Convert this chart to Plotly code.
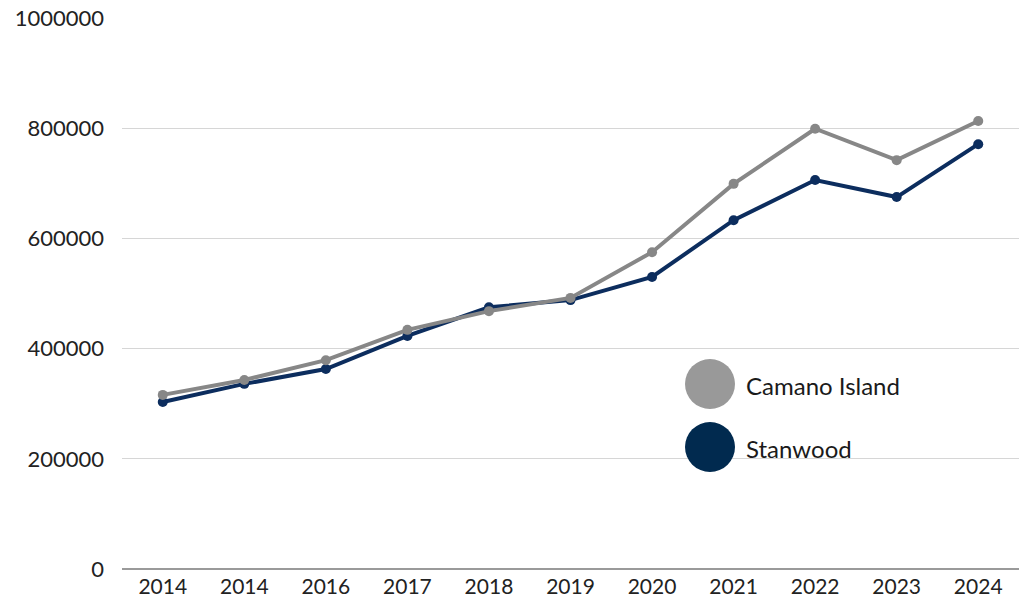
import plotly.graph_objects as go

years = ["2014", "2014", "2016", "2017", "2018", "2019", "2020", "2021", "2022", "2023", "2024"]
camano = [316000, 343000, 379000, 434000, 468000, 492000, 575000, 699000, 799000, 742000, 813000]
stanwood = [303000, 336000, 363000, 423000, 475000, 488000, 530000, 633000, 706000, 675000, 771000]
series_names = ["Camano Island", "Stanwood"]
line_colors = ["#878787", "#0c2d5e"]
legend_colors = ["#999999", "#012a4f"]
y_ticks = [0, 200000, 400000, 600000, 800000, 1000000]

xs = list(range(len(years)))
FONT = "Lato, 'Open Sans', sans-serif"

fig = go.Figure()
fig.add_trace(go.Scatter(x=xs, y=stanwood, mode="lines+markers", name=series_names[1],
                         line=dict(color=line_colors[1], width=4),
                         marker=dict(color=line_colors[1], size=10), showlegend=False))
fig.add_trace(go.Scatter(x=xs, y=camano, mode="lines+markers", name=series_names[0],
                         line=dict(color=line_colors[0], width=4),
                         marker=dict(color=line_colors[0], size=10), showlegend=False))

L, R, T, B = 122, 0, 18, 30
W, H = 1019, 599
pw, ph = W - L - R, H - T - B

def px(x):
    return (x - L) / pw

def py(y):
    return (H - B - y) / ph

legend_pos = [(710, 384), (710, 447)]
for (cx, cy), name, col in zip(legend_pos, series_names, legend_colors):
    fig.add_shape(type="circle", xref="paper", yref="paper",
                  xsizemode="pixel", ysizemode="pixel",
                  xanchor=px(cx), yanchor=py(cy),
                  x0=-25, x1=25, y0=-25, y1=25,
                  fillcolor=col, line=dict(width=0))
    fig.add_annotation(x=px(cx + 34), y=py(cy + 1), xref="paper", yref="paper",
                       text=name, showarrow=False, xanchor="left", yanchor="middle",
                       font=dict(family=FONT, size=24, color="#1a1a1a"))

fig.update_layout(
    width=W, height=H,
    margin=dict(l=L, r=R, t=T, b=B),
    paper_bgcolor="white", plot_bgcolor="white",
    font=dict(family=FONT, size=21, color="#222222"),
    xaxis=dict(range=[-0.5, len(years) - 0.5], tickvals=xs, ticktext=years,
               showgrid=False, zeroline=False, showline=False, ticks="",
               tickfont=dict(size=21, color="#222222"), ticklabelstandoff=3),
    yaxis=dict(range=[0, 1000000], tickvals=y_ticks, ticktext=[str(v) for v in y_ticks],
               showgrid=True, gridcolor="#d6d6d6", gridwidth=1,
               zeroline=True, zerolinecolor="#9a9a9a", zerolinewidth=1.5,
               showline=False, ticks="", tickfont=dict(size=22, color="#222222"),
               ticklabelstandoff=17),
)

fig.write_html("out.html", config={"displayModeBar": False})
